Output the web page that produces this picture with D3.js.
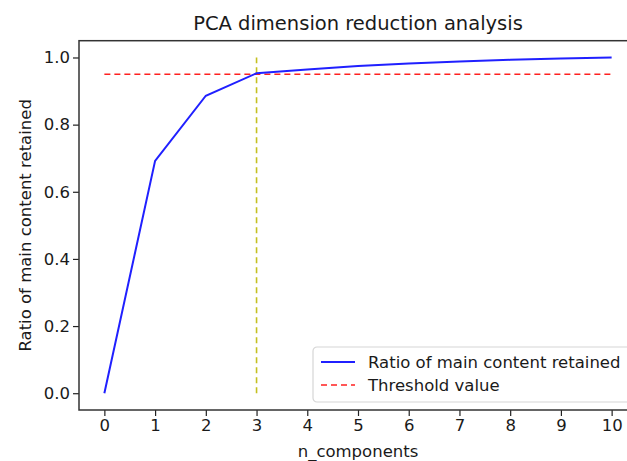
<!DOCTYPE html>
<html>
<head>
<meta charset="utf-8">
<script src="https://cdn.jsdelivr.net/npm/d3@7"></script>
<style>
  body { margin: 0; background: #fff; }
  text { font-family: "DejaVu Sans", sans-serif; fill: #1a1a1a; }
</style>
</head>
<body>
<div id="chart"></div>
<script>
// data
const components = [0, 1, 2, 3, 4, 5, 6, 7, 8, 9, 10];
const ratioRetained = [0, 0.692, 0.886, 0.953, 0.964, 0.975, 0.982, 0.988, 0.993, 0.997, 1.0];
const threshold = 0.95;
const chosenN = 3;
const xTicks = [0, 1, 2, 3, 4, 5, 6, 7, 8, 9, 10];
const yTicks = [0.0, 0.2, 0.4, 0.6, 0.8, 1.0];
const legendLabels = ["Ratio of main content retained", "Threshold value"];

const W = 627, H = 461;
const plot = { left: 79, right: 637, top: 40.7, bottom: 410 };

const svg = d3.select("#chart").append("svg")
  .attr("width", W)
  .attr("height", H);

const x = d3.scaleLinear().domain([-0.5, 10.5]).range([plot.left, plot.right]);
const y = d3.scaleLinear().domain([-0.05, 1.05]).range([plot.bottom, plot.top]);

// title
svg.append("text")
  .attr("x", (plot.left + plot.right) / 2)
  .attr("y", 30)
  .attr("text-anchor", "middle")
  .style("font-size", "19.5px")
  .text("PCA dimension reduction analysis");

// threshold line
svg.append("line")
  .attr("x1", x(components[0])).attr("x2", x(components[components.length - 1]))
  .attr("y1", y(threshold)).attr("y2", y(threshold))
  .attr("stroke", "#ff2020")
  .attr("stroke-width", 1.6)
  .attr("stroke-dasharray", "6,4");

// chosen n_components marker
svg.append("line")
  .attr("x1", x(chosenN)).attr("x2", x(chosenN))
  .attr("y1", y(0)).attr("y2", y(1))
  .attr("stroke", "#c4c020")
  .attr("stroke-width", 1.6)
  .attr("stroke-dasharray", "6,4");

// cumulative ratio line
const line = d3.line()
  .x((d, i) => x(components[i]))
  .y(d => y(d));

svg.append("path")
  .datum(ratioRetained)
  .attr("d", line)
  .attr("fill", "none")
  .attr("stroke", "#2020ff")
  .attr("stroke-width", 2);

// axes
const xAxis = svg.append("g")
  .attr("transform", `translate(0, ${plot.bottom})`)
  .call(d3.axisBottom(x).tickValues(xTicks).tickFormat(d3.format("d")).tickSize(6).tickPadding(3).tickSizeOuter(0));

const yAxis = svg.append("g")
  .attr("transform", `translate(${plot.left}, 0)`)
  .call(d3.axisLeft(y).tickValues(yTicks).tickFormat(d3.format(".1f")).tickSize(6).tickPadding(3).tickSizeOuter(0));

[xAxis, yAxis].forEach(g => {
  g.select(".domain").remove();
  g.selectAll(".tick line").attr("stroke", "#222").attr("stroke-width", 1.2);
  g.selectAll(".tick text").style("font-size", "16.5px").attr("fill", "#1a1a1a")
    .style("font-family", "DejaVu Sans, sans-serif");
});

// spines
svg.append("rect")
  .attr("x", plot.left).attr("y", plot.top)
  .attr("width", plot.right - plot.left)
  .attr("height", plot.bottom - plot.top)
  .attr("fill", "none")
  .attr("stroke", "#333")
  .attr("stroke-width", 1.5);

// axis labels
svg.append("text")
  .attr("x", (plot.left + plot.right) / 2)
  .attr("y", 457)
  .attr("text-anchor", "middle")
  .style("font-size", "16.5px")
  .text("n_components");

svg.append("text")
  .attr("transform", `translate(31, ${(plot.top + plot.bottom) / 2}) rotate(-90)`)
  .attr("text-anchor", "middle")
  .style("font-size", "16.5px")
  .text("Ratio of main content retained");

// legend
const legend = svg.append("g").attr("transform", "translate(313, 347)");
legend.append("rect")
  .attr("width", 318).attr("height", 55)
  .attr("rx", 4)
  .attr("fill", "#fff").attr("fill-opacity", 0.8)
  .attr("stroke", "#d6d6d6").attr("stroke-width", 1.2);

const legendStyles = [
  { color: "#2020ff", dash: null, width: 2 },
  { color: "#ff2020", dash: "6,4", width: 1.6 }
];
legendLabels.forEach((label, i) => {
  const row = legend.append("g").attr("transform", `translate(0, ${15 + i * 23})`);
  row.append("line")
    .attr("x1", 8).attr("x2", 42)
    .attr("stroke", legendStyles[i].color)
    .attr("stroke-width", legendStyles[i].width)
    .attr("stroke-dasharray", legendStyles[i].dash);
  row.append("text")
    .attr("x", 55).attr("dy", "0.35em")
    .style("font-size", "16.5px")
    .text(label);
});
</script>
</body>
</html>
